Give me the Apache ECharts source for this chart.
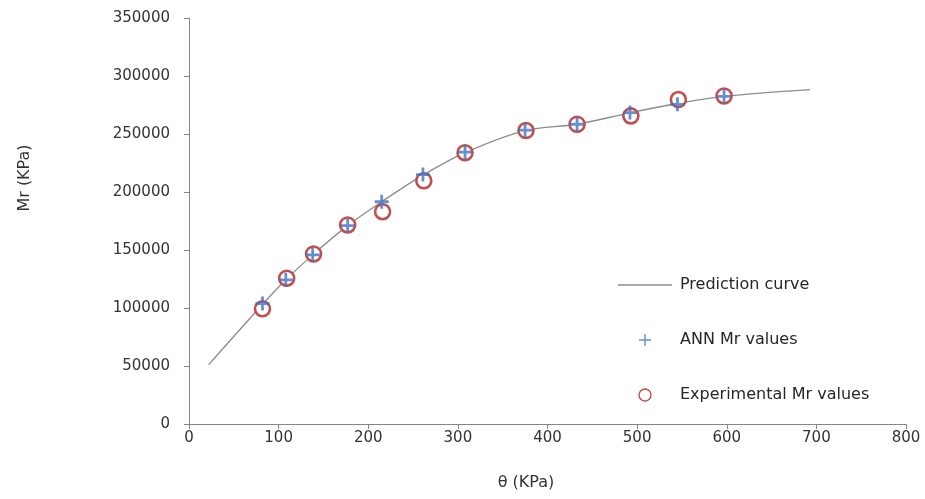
<!DOCTYPE html>
<html>
<head>
<meta charset="utf-8">
<script src="https://cdn.jsdelivr.net/npm/echarts@6/dist/echarts.min.js"></script>
<style>html,body{margin:0;padding:0;background:#fff}#c{width:925px;height:499px}</style>
</head>
<body>
<div id="c"></div>
<script>
// Experimental and ANN values (theta in KPa, Mr in KPa)
var thetaExp = [82, 109, 139, 177, 216, 262, 308, 376, 433, 493, 546, 597];
var mrExp = [99300, 125700, 146600, 171600, 183000, 209700, 233900, 253000, 258400, 265600, 279700, 282800];
var thetaAnn = [82, 108, 138, 177, 215, 261, 308, 375, 433, 492, 545, 597];
var mrAnn = [103900, 124300, 145800, 171000, 191600, 215000, 234300, 253300, 258400, 268500, 275600, 282500];
// Prediction curve
var curveTheta = [22, 82, 108, 138, 177, 215, 261, 308, 375, 433, 492, 545, 597, 693];
var curveMr = [51200, 103000, 124300, 145800, 171000, 191600, 214500, 234000, 253000, 258400, 268300, 276300, 282500, 288300];
var xTicks = [0, 100, 200, 300, 400, 500, 600, 700, 800];
var yTicks = [0, 50000, 100000, 150000, 200000, 250000, 300000, 350000];

function zip(a, b) { return a.map(function (v, i) { return [v, b[i]]; }); }

var FONT = 'DejaVu Sans';
var plus = 'path://M4,0H6V4H10V6H6V10H4V6H0V4H4Z';
var thinPlus = 'path://M5.3,0H6.7V5.3H12V6.7H6.7V12H5.3V6.7H0V5.3H5.3Z';
var lineIcon = 'path://M0,0H54V1.3H0Z';

var chart = echarts.init(document.getElementById('c'), null, {renderer: 'canvas'});
chart.setOption({
  animation: false,
  backgroundColor: '#ffffff',
  grid: {left: 189, right: 19, top: 18, bottom: 75, containLabel: false},
  xAxis: {
    type: 'value', min: xTicks[0], max: xTicks[xTicks.length - 1], interval: 100,
    axisLine: {show: true, lineStyle: {color: '#868686', width: 1}},
    axisTick: {show: true, length: 5, inside: false, lineStyle: {color: '#868686'}},
    splitLine: {show: false},
    axisLabel: {color: '#333333', fontFamily: FONT, fontSize: 15, margin: 7,
      formatter: function (v) { return String(v); }}
  },
  yAxis: {
    type: 'value', min: yTicks[0], max: yTicks[yTicks.length - 1], interval: 50000,
    axisLine: {show: true, lineStyle: {color: '#868686', width: 1}},
    axisTick: {show: true, length: 5, inside: false, lineStyle: {color: '#868686'}},
    splitLine: {show: false},
    axisLabel: {color: '#333333', fontFamily: FONT, fontSize: 15, margin: 19,
      formatter: function (v) { return String(v); }}
  },
  legend: {
    orient: 'vertical', left: 618, top: 277, padding: 0,
    itemWidth: 54, itemHeight: 12, itemGap: 39,
    textStyle: {color: '#262626', fontFamily: FONT, fontSize: 16, padding: [0, 0, 0, 3]},
    data: [
      {name: 'Prediction curve', icon: lineIcon, itemStyle: {color: '#8c8c8c'}},
      {name: 'ANN Mr values', icon: thinPlus, itemStyle: {color: '#4472c4'}},
      {name: 'Experimental Mr values', icon: 'circle', itemStyle: {color: '#ffffff', borderColor: '#c0504d', borderWidth: 1.4}}
    ]
  },
  graphic: [
    {type: 'text', x: 25, y: 178, rotation: Math.PI / 2,
     style: {text: 'Mr (KPa)', fill: '#333333', font: '16px "' + FONT + '"', align: 'center', verticalAlign: 'middle'}},
    {type: 'text', x: 526, y: 483,
     style: {text: 'θ (KPa)', fill: '#333333', font: '16px "' + FONT + '"', align: 'center', verticalAlign: 'middle'}}
  ],
  series: [
    {
      name: 'Prediction curve', type: 'line', data: zip(curveTheta, curveMr),
      smooth: 0.35, symbol: 'none', showSymbol: false,
      lineStyle: {color: '#8c8c8c', width: 1.3}, itemStyle: {color: '#8c8c8c'}, z: 1
    },
    {
      name: 'Experimental Mr values', type: 'scatter', data: zip(thetaExp, mrExp),
      symbol: 'circle', symbolSize: 15,
      itemStyle: {color: '#ffffff', borderColor: '#c0504d', borderWidth: 2.6, opacity: 1}, z: 2
    },
    {
      name: 'ANN Mr values', type: 'scatter', data: zip(thetaAnn, mrAnn),
      symbol: plus, symbolSize: 14, symbolKeepAspect: true,
      itemStyle: {color: '#4472c4'}, z: 3
    }
  ]
});
</script>
</body>
</html>
